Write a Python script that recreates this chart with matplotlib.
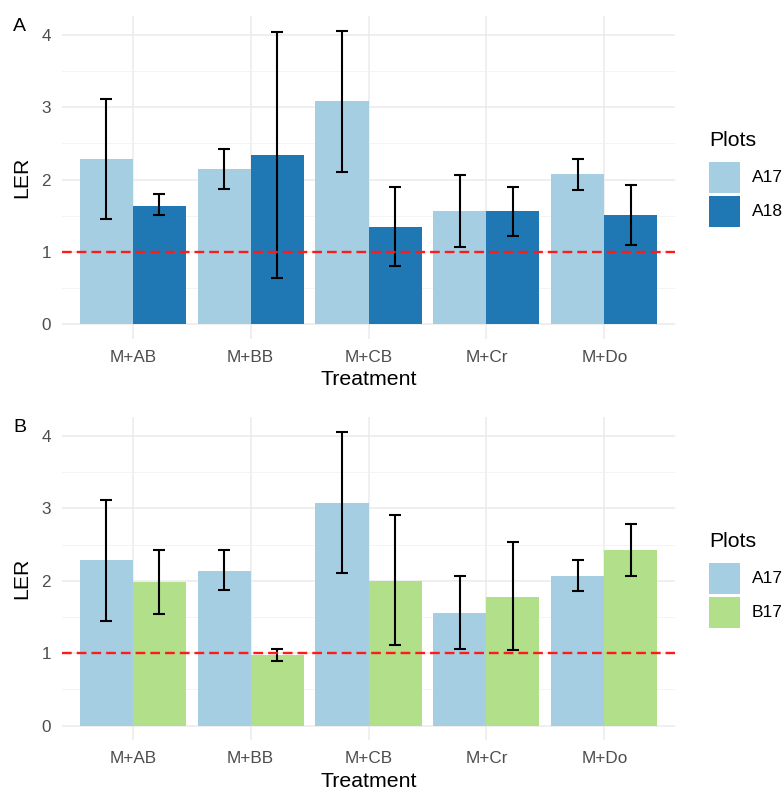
import numpy as np
import matplotlib
matplotlib.use("Agg")
import matplotlib.pyplot as plt
from matplotlib.patches import Rectangle

plt.rcParams['font.family'] = ['Liberation Sans', 'DejaVu Sans']
plt.rcParams['lines.scale_dashes'] = False

treatments = ["M+AB", "M+BB", "M+CB", "M+Cr", "M+Do"]

# panel A
a17_mean = [2.29, 2.14, 3.08, 1.56, 2.07]
a17_lo = [1.45, 1.87, 2.11, 1.06, 1.86]
a17_hi = [3.12, 2.42, 4.06, 2.06, 2.28]

a18_mean = [1.64, 2.34, 1.34, 1.56, 1.51]
a18_lo = [1.51, 0.64, 0.80, 1.22, 1.10]
a18_hi = [1.80, 4.04, 1.89, 1.90, 1.93]

# panel B
b17_mean = [1.98, 0.97, 2.00, 1.78, 2.42]
b17_lo = [1.54, 0.89, 1.11, 1.04, 2.06]
b17_hi = [2.42, 1.05, 2.91, 2.54, 2.79]

panels = [
    ("A", ("A17", a17_mean, a17_lo, a17_hi, "#a6cee3"),
          ("A18", a18_mean, a18_lo, a18_hi, "#1f78b4")),
    ("B", ("A17", a17_mean, a17_lo, a17_hi, "#a6cee3"),
          ("B17", b17_mean, b17_lo, b17_hi, "#b2df8a")),
]

W, H = 784, 791
fig = plt.figure(figsize=(W / 100, H / 100), dpi=100)

# pixel boxes (left, right, top, bottom)
boxes = [(62, 675, 15.9, 338.8), (62, 675, 416.9, 740.2)]

x = np.arange(len(treatments))
bw = 0.45


def fx(px):
    return px / W


def fy(py):
    return 1 - py / H


for (tag, s1, s2), (l, r, t, b) in zip(panels, boxes):
    ax = fig.add_axes([fx(l), fy(b), (r - l) / W, (b - t) / H])
    for k, (name, mean, lo, hi, col) in enumerate([s1, s2]):
        xs = x + (k - 0.5) * bw
        mean = np.array(mean)
        ax.bar(xs, mean, width=bw, color=col, zorder=2)
        err = [mean - np.array(lo), np.array(hi) - mean]
        ax.errorbar(xs, mean, yerr=err, fmt='none', ecolor='black',
                    elinewidth=1.5, capsize=4.3, capthick=1.5, zorder=3)
    ax.axhline(1, color='#ff1a1a', lw=1.7, dashes=(7, 3.6), zorder=4)

    ax.set_xlim(-0.6, 4.6)
    ax.set_ylim(-0.203, 4.263)
    ax.set_xticks(x)
    ax.set_xticklabels(treatments)
    ax.set_yticks([0, 1, 2, 3, 4])
    ax.set_yticks([0.5, 1.5, 2.5, 3.5], minor=True)
    ax.grid(True, which='major', color='#ebebeb', lw=1.1, zorder=0)
    ax.grid(True, which='minor', axis='y', color='#f2f2f2', lw=0.6, zorder=0)
    ax.set_axisbelow(True)
    for sp in ax.spines.values():
        sp.set_visible(False)
    ax.tick_params(which='both', length=0, labelsize=12.3, colors='#4d4d4d', pad=8)
    ax.set_xlabel("Treatment", fontsize=15.3, color='black', labelpad=4)
    ax.set_ylabel("LER", fontsize=15.3, color='black', labelpad=7)

    # legend drawn in figure pixels
    fig.text(fx(709), fy(t + 130.5), "Plots", fontsize=15.3, va='baseline')
    for k, (name, col) in enumerate([(s1[0], s1[4]), (s2[0], s2[4])]):
        top = t + 146 + k * 34.5
        fig.patches.append(Rectangle((fx(708.5), fy(top + 31)), 31.5 / W, 31 / H,
                                     transform=fig.transFigure, facecolor=col,
                                     edgecolor='none'))
        fig.text(fx(751.5), fy(top + 15.5), name, fontsize=12.5, va='center')

    fig.text(fx(13.3), fy(t + 14.8), tag, fontsize=14, color='black', va='baseline')

fig.savefig("out.png", dpi=100)
